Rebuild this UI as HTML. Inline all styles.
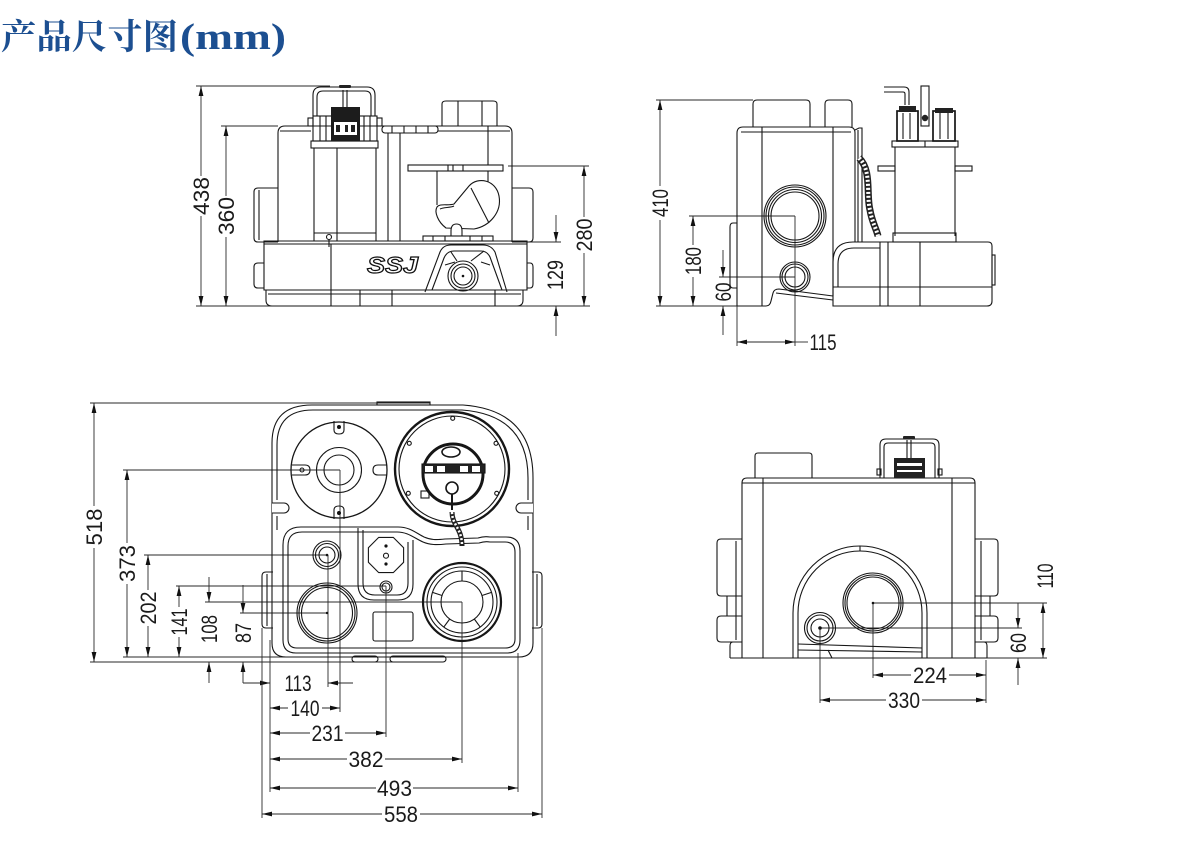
<!DOCTYPE html>
<html><head><meta charset="utf-8"><style>
html,body{margin:0;padding:0;background:#fff;}
svg{display:block;}
.d{stroke:#2a2a2a;stroke-width:0.9;fill:none;}
.k{stroke:#161616;stroke-width:1.1;fill:none;}
.t{font-family:"Liberation Sans Narrow","Liberation Sans",sans-serif;font-size:22px;fill:#1a1a1a;}
</style></head><body>
<svg width="1184" height="846" viewBox="0 0 1184 846" xmlns="http://www.w3.org/2000/svg">
<defs>
<marker id="a" markerWidth="10" markerHeight="6" refX="10" refY="3" orient="auto-start-reverse" markerUnits="userSpaceOnUse"><path d="M0,0.6 L10,3 L0,5.4 Z" fill="#111"/></marker>
</defs>
<rect width="1184" height="846" fill="#fff"/>

<!-- Title -->
<text x="1" y="49" font-family="'Liberation Serif','Noto Serif CJK SC',serif" font-weight="bold" font-size="35" fill="#1c4f91" textLength="177" lengthAdjust="spacingAndGlyphs">产品尺寸图</text>
<text x="180" y="49" font-family="'Liberation Serif',serif" font-weight="bold" font-size="37" fill="#1c4f91" textLength="106" lengthAdjust="spacingAndGlyphs">(mm)</text>

<!-- ================= FRONT VIEW (top-left) ================= -->
<g class="d">
  <line x1="196" y1="86" x2="330" y2="86"/>
  <line x1="196" y1="306" x2="590" y2="306"/>
  <line x1="221" y1="126" x2="278" y2="126"/>
  <line x1="508" y1="166" x2="589" y2="166"/>
  <line x1="527" y1="242" x2="561" y2="242"/>
  <line x1="201" y1="86" x2="201" y2="176" marker-start="url(#a)"/>
  <line x1="201" y1="216" x2="201" y2="306" marker-end="url(#a)"/>
  <line x1="226" y1="126" x2="226" y2="196" marker-start="url(#a)"/>
  <line x1="226" y1="237" x2="226" y2="306" marker-end="url(#a)"/>
  <line x1="584" y1="166" x2="584" y2="217" marker-start="url(#a)"/>
  <line x1="584" y1="253" x2="584" y2="306" marker-end="url(#a)"/>
  <line x1="556" y1="215" x2="556" y2="242" marker-end="url(#a)"/>
  <line x1="556" y1="336" x2="556" y2="306" marker-end="url(#a)"/>
</g>
<text class="t" text-anchor="middle" transform="translate(201,196) rotate(-90)" dy="8" textLength="38" lengthAdjust="spacingAndGlyphs">438</text>
<text class="t" text-anchor="middle" transform="translate(226,216) rotate(-90)" dy="8" textLength="38" lengthAdjust="spacingAndGlyphs">360</text>
<text class="t" text-anchor="middle" transform="translate(584,235) rotate(-90)" dy="8" textLength="33" lengthAdjust="spacingAndGlyphs">280</text>
<text class="t" text-anchor="middle" transform="translate(555,275) rotate(-90)" dy="8" textLength="30" lengthAdjust="spacingAndGlyphs">129</text>

<g class="k">
  <!-- upper body -->
  <path d="M278,242 V133 Q278,126 285,126 H505 Q512,126 512,133 V242"/>
  <line x1="280" y1="131" x2="311" y2="131"/>
  <line x1="438" y1="131" x2="510" y2="131"/>
  <path d="M278,188 H258 Q254,188 254,192 V238 Q254,242 258,242 H278"/>
  <line x1="259" y1="190" x2="259" y2="240"/>
  <path d="M512,188 H529 Q533,188 533,192 V238 Q533,242 529,242 H512"/>
  <!-- base -->
  <path d="M264,290 V241 H527 V290 Z"/>
  <line x1="264" y1="244" x2="527" y2="244"/>
  <path d="M266,290 V300 Q266,306 272,306 H517 Q523,306 523,300 V290"/>
  <line x1="268" y1="294" x2="521" y2="294"/>
  <path d="M264,263 H258 Q254,263 254,267 V284 Q254,288 258,288 H264"/>
  <path d="M527,263 H530 Q533,263 533,267 V284 Q533,288 530,288 H527"/>
  <line x1="331" y1="244" x2="331" y2="306"/>
  <line x1="360" y1="290" x2="360" y2="306"/>
  <line x1="392" y1="290" x2="392" y2="306"/>
  <line x1="495" y1="290" x2="495" y2="306"/>
  <!-- pump head -->
  <rect x="311" y="141" width="67" height="7"/>
  <line x1="314" y1="148" x2="314" y2="241"/>
  <line x1="376" y1="148" x2="376" y2="241"/>
  <line x1="337" y1="148" x2="337" y2="241"/>
  <line x1="314" y1="233" x2="376" y2="233"/>
  <circle cx="329" cy="237" r="2.5"/>
  <line x1="329" y1="240" x2="329" y2="247"/>
  <rect x="313" y="116" width="64" height="25"/>
  <line x1="320" y1="116" x2="320" y2="141"/>
  <line x1="326" y1="116" x2="326" y2="141"/>
  <line x1="364" y1="116" x2="364" y2="141"/>
  <line x1="370" y1="116" x2="370" y2="141"/>
  <rect x="308" y="118" width="5" height="8"/>
  <rect x="377" y="118" width="5" height="8"/>
  <path d="M313,116 V95 Q313,87 321,87 H367 Q375,87 375,95 V116"/>
  <path d="M317,116 V97 Q317,91 323,91 H365 Q371,91 371,97 V116"/>
  <line x1="343" y1="90" x2="343" y2="107"/>
  <line x1="347" y1="90" x2="347" y2="107"/>
  <!-- vent piece -->
  <rect x="382" y="126" width="56" height="7" rx="3"/>
  <line x1="392" y1="126" x2="392" y2="133"/>
  <line x1="404" y1="126" x2="404" y2="133"/>
  <line x1="416" y1="126" x2="416" y2="133"/>
  <line x1="428" y1="126" x2="428" y2="133"/>
  <!-- outlet top -->
  <path d="M442,126 V104 Q442,101 446,101 H493 Q497,101 497,104 V126"/>
  <line x1="458" y1="101" x2="458" y2="126"/>
  <line x1="482" y1="101" x2="482" y2="126"/>
  <!-- inner verticals -->
  <line x1="388" y1="133" x2="388" y2="241"/>
  <line x1="400" y1="133" x2="400" y2="241"/>
  <line x1="437" y1="171" x2="437" y2="205"/>
  <line x1="488" y1="126" x2="488" y2="165"/>
  <line x1="488" y1="171" x2="488" y2="185"/>
  <!-- plate -->
  <rect x="408" y="165" width="95" height="6"/>
  <line x1="448" y1="165" x2="448" y2="171"/>
  <line x1="453" y1="165" x2="453" y2="171"/>
  <line x1="463" y1="165" x2="463" y2="171"/>
  <!-- float -->
  <path d="M469,186 L454,204 C448,206 440,203 437,207 C434,212 438,222 446,228 L474,229 C490,226 502,212 499,196 C496,180 478,176 469,186 Z" fill="#fff"/>
  <line x1="471" y1="188" x2="489" y2="223"/>
  <path d="M440,209 C444,207 450,208 454,206"/>
  <path d="M451,236 V231 Q451,224 456.5,224 Q462,224 462,231 V236" fill="#fff"/>
  <rect x="423" y="236" width="70" height="5"/>
  <line x1="433" y1="236" x2="433" y2="241"/>
  <line x1="445" y1="236" x2="445" y2="241"/>
  <line x1="470" y1="236" x2="470" y2="241"/>
  <line x1="482" y1="236" x2="482" y2="241"/>
  <!-- outlet fitting -->
  <path d="M425,292 L440,252 Q443,245 451,245 H483 Q491,245 495,252 L507,292"/>
  <path d="M432,290 L444,258 Q447,251 454,251 H481 Q487,251 490,257 L502,290"/>
  <path d="M451,252 L457,261 M484,251 L471,261"/>
  <path d="M445,265 L455,262 M481,262 L490,265"/>
  <circle cx="463" cy="276" r="15"/>
  <circle cx="463" cy="276" r="12"/>
  <circle cx="463" cy="276" r="9"/>
</g>
<rect x="331" y="107" width="29" height="34" fill="#1c1c1c"/>
<rect x="334" y="122" width="23" height="13" fill="#fff"/>
<rect x="336" y="125" width="4" height="7" fill="#222"/>
<rect x="345" y="125" width="3" height="7" fill="#222"/>
<rect x="351" y="125" width="4" height="7" fill="#222"/>
<rect x="339" y="85" width="12" height="3" rx="1" fill="#222"/>
<circle cx="463" cy="276" r="1.3" fill="#111"/>
<text x="367" y="273" font-family="'Liberation Sans',sans-serif" font-weight="bold" font-style="italic" font-size="23" fill="#fff" stroke="#111" stroke-width="1.2" textLength="51" lengthAdjust="spacingAndGlyphs">SSJ</text>

<!-- ================= SIDE VIEW (top-right) ================= -->
<g class="d">
  <line x1="656" y1="100" x2="753" y2="100"/>
  <line x1="656" y1="306" x2="737" y2="306"/>
  <line x1="689" y1="216" x2="795" y2="216"/>
  <line x1="719" y1="277" x2="795" y2="277"/>
  <line x1="737" y1="306" x2="737" y2="346"/>
  <line x1="795" y1="216" x2="795" y2="346"/>
  <line x1="660" y1="100" x2="660" y2="186" marker-start="url(#a)"/>
  <line x1="660" y1="220" x2="660" y2="306" marker-end="url(#a)"/>
  <line x1="693" y1="216" x2="693" y2="245" marker-start="url(#a)"/>
  <line x1="693" y1="277" x2="693" y2="306" marker-end="url(#a)"/>
  <line x1="723" y1="250" x2="723" y2="277" marker-end="url(#a)"/>
  <line x1="723" y1="335" x2="723" y2="306" marker-end="url(#a)"/>
  <line x1="737" y1="342" x2="795" y2="342" marker-start="url(#a)" marker-end="url(#a)"/>
  <line x1="795" y1="342" x2="808" y2="342"/>
</g>
<text class="t" text-anchor="middle" transform="translate(660,203) rotate(-90)" dy="8" textLength="28" lengthAdjust="spacingAndGlyphs">410</text>
<text class="t" text-anchor="middle" transform="translate(693,261) rotate(-90)" dy="8" textLength="28" lengthAdjust="spacingAndGlyphs">180</text>
<text class="t" text-anchor="middle" transform="translate(723,292) rotate(-90)" dy="8" textLength="19" lengthAdjust="spacingAndGlyphs">60</text>
<text class="t" x="823" y="350" text-anchor="middle" textLength="27" lengthAdjust="spacingAndGlyphs">115</text>

<g class="k">
  <path d="M737,306 V133 Q737,127 743,127 H849 Q855,127 855,133 V242"/>
  <line x1="741" y1="132" x2="851" y2="132"/>
  <line x1="762" y1="127" x2="762" y2="306"/>
  <line x1="833" y1="127" x2="833" y2="296"/>
  <path d="M737,306 H766 Q770,306 771,301 L773,293 Q774,289 779,289 L833,296"/>
  <path d="M776,293 L833,300"/>
  <path d="M737,223 H733 Q730,223 730,227 V284 Q730,288 733,288 H737"/>
  <path d="M753,127 V104 Q753,100 757,100 H806 Q810,100 810,104 V127"/>
  <path d="M825,127 V104 Q825,100 829,100 H848 Q852,100 852,104 V127"/>
  <circle cx="795" cy="216" r="31"/>
  <circle cx="795" cy="216" r="29"/>
  <circle cx="795" cy="216" r="26.5"/>
  <circle cx="795" cy="216" r="24"/>
  <circle cx="795" cy="277" r="15"/>
  <circle cx="795" cy="277" r="13"/>
  <circle cx="795" cy="277" r="10"/>
  <path d="M855,130 L859,128 H862 V242"/>
  <line x1="858" y1="130" x2="858" y2="242"/>
  <!-- base tank -->
  <path d="M833,306 V262 Q833,242 853,242 H988 Q992,242 992,246 V301 Q992,306 987,306 Z"/>
  <path d="M838,287 V264 Q838,248 854,248 H880"/>
  <line x1="833" y1="287" x2="992" y2="287"/>
  <line x1="880" y1="242" x2="880" y2="306"/>
  <line x1="888" y1="242" x2="888" y2="306"/>
  <line x1="920" y1="242" x2="920" y2="306"/>
  <rect x="992" y="255" width="3" height="30"/>
  <!-- pump -->
  <rect x="892" y="141" width="66" height="6"/>
  <line x1="925" y1="141" x2="925" y2="147"/>
  <line x1="895" y1="147" x2="895" y2="236"/>
  <line x1="955" y1="147" x2="955" y2="236"/>
  <rect x="893" y="233" width="63" height="9"/>
  <rect x="878" y="166" width="17" height="5"/>
  <rect x="955" y="166" width="17" height="5"/>
  <rect x="897" y="111" width="21" height="30" stroke-width="1.7"/>
  <rect x="933" y="111" width="22" height="30" stroke-width="1.7"/>
  <line x1="903" y1="113" x2="903" y2="139"/>
  <line x1="910" y1="113" x2="910" y2="139"/>
  <line x1="940" y1="113" x2="940" y2="139"/>
  <line x1="948" y1="113" x2="948" y2="139"/>
  <rect x="921" y="86" width="8" height="40"/>
  <path d="M884,87 H904 Q909,87 909,92 V105 M884,92 H903 Q905,92 905,94 V105" />
</g>
<path d="M859,158 C872,170 866,195 870,210 C872,222 876,228 878,236" stroke="#222" stroke-width="7" fill="none"/>
<path d="M859,158 C872,170 866,195 870,210 C872,222 876,228 878,236" stroke="#fff" stroke-width="4" fill="none" stroke-dasharray="2 2"/>
<rect x="899" y="106" width="17" height="6" fill="#222"/>
<rect x="935" y="108" width="18" height="5" fill="#222"/>
<circle cx="925" cy="118" r="3.2" fill="#222"/>

<!-- ================= TOP VIEW (bottom-left) ================= -->
<g class="d">
  <line x1="90" y1="403" x2="430" y2="403"/>
  <line x1="123" y1="470" x2="340" y2="470"/>
  <line x1="144" y1="555" x2="327" y2="555"/>
  <line x1="176" y1="586" x2="386" y2="586"/>
  <line x1="205" y1="602" x2="462" y2="602"/>
  <line x1="240" y1="613" x2="327" y2="613"/>
  <line x1="123" y1="657" x2="300" y2="657"/>
  <line x1="90" y1="662" x2="430" y2="662"/>
  <line x1="94" y1="403" x2="94" y2="506" marker-start="url(#a)"/>
  <line x1="94" y1="548" x2="94" y2="662" marker-end="url(#a)"/>
  <line x1="127" y1="470" x2="127" y2="543" marker-start="url(#a)"/>
  <line x1="127" y1="584" x2="127" y2="657" marker-end="url(#a)"/>
  <line x1="148" y1="555" x2="148" y2="590" marker-start="url(#a)"/>
  <line x1="148" y1="626" x2="148" y2="657" marker-end="url(#a)"/>
  <line x1="179" y1="586" x2="179" y2="607" marker-start="url(#a)"/>
  <line x1="179" y1="637" x2="179" y2="657" marker-end="url(#a)"/>
  <line x1="209" y1="577" x2="209" y2="602" marker-end="url(#a)"/>
  <line x1="209" y1="683" x2="209" y2="662" marker-end="url(#a)"/>
  <line x1="243" y1="585" x2="243" y2="613" marker-end="url(#a)"/>
  <line x1="243" y1="683" x2="243" y2="662" marker-end="url(#a)"/>
  <line x1="243" y1="683" x2="270" y2="683" marker-end="url(#a)"/>
  <line x1="353" y1="683" x2="328" y2="683" marker-end="url(#a)"/>
  <line x1="270" y1="708" x2="288" y2="708" marker-start="url(#a)"/>
  <line x1="322" y1="708" x2="340" y2="708" marker-end="url(#a)"/>
  <line x1="270" y1="733" x2="310" y2="733" marker-start="url(#a)"/>
  <line x1="345" y1="733" x2="386" y2="733" marker-end="url(#a)"/>
  <line x1="270" y1="759" x2="347" y2="759" marker-start="url(#a)"/>
  <line x1="385" y1="759" x2="462" y2="759" marker-end="url(#a)"/>
  <line x1="270" y1="788" x2="376" y2="788" marker-start="url(#a)"/>
  <line x1="413" y1="788" x2="518" y2="788" marker-end="url(#a)"/>
  <line x1="262" y1="814" x2="382" y2="814" marker-start="url(#a)"/>
  <line x1="420" y1="814" x2="542" y2="814" marker-end="url(#a)"/>
  <line x1="262" y1="628" x2="262" y2="818"/>
  <line x1="270" y1="640" x2="270" y2="792"/>
  <line x1="328" y1="555" x2="328" y2="687"/>
  <line x1="340" y1="470" x2="340" y2="712"/>
  <line x1="386" y1="586" x2="386" y2="737"/>
  <line x1="462" y1="602" x2="462" y2="763"/>
  <line x1="518" y1="653" x2="518" y2="792"/>
  <line x1="542" y1="628" x2="542" y2="818"/>
</g>
<text class="t" text-anchor="middle" transform="translate(94,527) rotate(-90)" dy="8" textLength="37" lengthAdjust="spacingAndGlyphs">518</text>
<text class="t" text-anchor="middle" transform="translate(127,563.5) rotate(-90)" dy="8" textLength="37" lengthAdjust="spacingAndGlyphs">373</text>
<text class="t" text-anchor="middle" transform="translate(148,608) rotate(-90)" dy="8" textLength="33" lengthAdjust="spacingAndGlyphs">202</text>
<text class="t" text-anchor="middle" transform="translate(179,622) rotate(-90)" dy="8" textLength="27" lengthAdjust="spacingAndGlyphs">141</text>
<text class="t" text-anchor="middle" transform="translate(209,629) rotate(-90)" dy="8" textLength="28" lengthAdjust="spacingAndGlyphs">108</text>
<text class="t" text-anchor="middle" transform="translate(243,633) rotate(-90)" dy="8" textLength="20" lengthAdjust="spacingAndGlyphs">87</text>
<text class="t" x="298" y="691" text-anchor="middle" textLength="27" lengthAdjust="spacingAndGlyphs">113</text>
<text class="t" x="305" y="716" text-anchor="middle" textLength="29" lengthAdjust="spacingAndGlyphs">140</text>
<text class="t" x="327.5" y="741" text-anchor="middle" textLength="32" lengthAdjust="spacingAndGlyphs">231</text>
<text class="t" x="366" y="767" text-anchor="middle" textLength="35" lengthAdjust="spacingAndGlyphs">382</text>
<text class="t" x="394.5" y="796" text-anchor="middle" textLength="35" lengthAdjust="spacingAndGlyphs">493</text>
<text class="t" x="401" y="822" text-anchor="middle" textLength="34" lengthAdjust="spacingAndGlyphs">558</text>

<g class="k">
  <path d="M272,443 Q272,405 312,405 H463 Q533,410 533,478 V643 Q533,657 519,657 H286 Q272,657 272,643 Z"/>
  <path d="M277,500 V445 Q277,410 313,410 H462 Q528,415 528,478 V500"/>
  <rect x="377" y="402" width="53" height="3"/>
  <path d="M272,503 H284 A5,5 0 0 1 284,513 H272" fill="#fff"/>
  <path d="M533,503 H521 A5,5 0 0 0 521,513 H533" fill="#fff"/>
  <line x1="277" y1="516" x2="277" y2="530"/>
  <line x1="528" y1="516" x2="528" y2="530"/>
  <!-- tray -->
  <path d="M283,545 Q283,527 301,527 H398 C410,527 416,533 424,537 C431,540 436,540 445,539 L478,538 Q484,536 490,537 H506 Q520,537 520,551 V640 Q520,653 507,653 H296 Q283,653 283,640 Z"/>
  <path d="M288,546 Q288,532 302,532 H397 C408,532 414,538 423,542 C430,545 437,545 446,544 L479,543 Q485,541 490,542 H505 Q515,542 515,552 V639 Q515,648 505,648 H297 Q288,648 288,639 Z"/>
  <!-- left cover -->
  <circle cx="339" cy="470" r="48" stroke-width="1.3"/>
  <circle cx="339" cy="470" r="22.5"/>
  <circle cx="339" cy="470" r="15"/>
  <path d="M334,421 V430 Q334,434 339,434 Q344,434 344,430 V421"/>
  <path d="M334,519 V510 Q334,506 339,506 Q344,506 344,510 V519"/>
  <path d="M292,465 H305 Q310,465 310,470 Q310,475 305,475 H292"/>
  <circle cx="302" cy="470" r="2"/>
  <path d="M387,465 H378 Q373,465 373,470 Q373,475 378,475 H387"/>
  <!-- right circle -->
  <circle cx="452" cy="469" r="57" stroke-width="2.4"/>
  <circle cx="452" cy="469" r="53"/>
  <circle cx="452.7" cy="418.3" r="2"/>
  <circle cx="409.3" cy="443.3" r="2"/>
  <circle cx="496" cy="443.3" r="2"/>
  <circle cx="408.3" cy="493.3" r="2"/>
  <circle cx="496.7" cy="493.3" r="2"/>
  <circle cx="453" cy="474" r="30" stroke-width="3"/>
  <ellipse cx="451" cy="452" rx="9" ry="5" stroke-width="1.6"/>
  <rect x="422" y="464" width="63" height="9" fill="#222"/>
  <rect x="425" y="466" width="8" height="6" fill="#fff" stroke="none"/>
  <rect x="437" y="466" width="8" height="6" fill="#fff" stroke="none"/>
  <rect x="460" y="466" width="8" height="6" fill="#fff" stroke="none"/>
  <rect x="472" y="466" width="8" height="6" fill="#fff" stroke="none"/>
  <circle cx="452" cy="488" r="6" stroke-width="1.6"/>
  <line x1="452" y1="494" x2="452" y2="510" stroke-width="2"/>
  <rect x="421" y="491" width="8" height="7"/>
  <!-- vent -->
  <circle cx="327" cy="555" r="14"/>
  <circle cx="327" cy="555" r="11.5"/>
  <circle cx="327" cy="555" r="8"/>
  <!-- octagon + housing -->
  <polygon points="403.6,562.3 393.3,572.6 378.7,572.6 368.4,562.3 368.4,547.7 378.7,537.4 393.3,537.4 403.6,547.7"/>
  <circle cx="386" cy="555.7" r="2.5"/>
  <path d="M358,528 V584 Q358,600 374,600 H398 Q413,600 413,584 V540"/>
  <path d="M363,530 V583 Q363,595 375,595 H397 Q408,595 408,583 V542"/>
  <circle cx="386" cy="587" r="6"/>
  <circle cx="386" cy="587" r="4"/>
  <!-- big left circle -->
  <circle cx="327" cy="613" r="30"/>
  <circle cx="327" cy="613" r="28"/>
  <circle cx="327" cy="613" r="25.5"/>
  <rect x="373" y="612" width="40" height="29" rx="2"/>
  <!-- right big circle -->
  <circle cx="462" cy="602" r="39" stroke-width="2.2"/>
  <circle cx="462" cy="602" r="35"/>
  <circle cx="462" cy="602" r="31"/>
  <circle cx="462" cy="602" r="21"/>
  <path d="M462,581 V571 M482,595.5 L491.5,592.4 M474.3,619 L480.2,627.1 M449.7,619 L443.8,627.1 M442,595.5 L432.5,592.4"/>
  <!-- side bumps + feet -->
  <path d="M273,572 H266 Q262,572 262,576 V624 Q262,628 266,628 H273"/>
  <line x1="267" y1="574" x2="267" y2="626"/>
  <path d="M532,572 H538 Q542,572 542,576 V624 Q542,628 538,628 H532"/>
  <line x1="537" y1="574" x2="537" y2="626"/>
  <rect x="352" y="656" width="26" height="6" rx="3"/>
  <rect x="390" y="656" width="56" height="6" rx="3"/>
</g>
<circle cx="339" cy="427" r="2" fill="#111"/>
<circle cx="339" cy="513" r="2" fill="#111"/>
<circle cx="327" cy="555" r="1.3" fill="#111"/>
<circle cx="386" cy="546" r="1.6" fill="#111"/>
<circle cx="386" cy="564" r="1.6" fill="#111"/>
<circle cx="327" cy="613" r="1.2" fill="#111"/>
<path d="M452,512 C452,525 462,528 462,546" stroke="#222" stroke-width="5" fill="none"/>
<path d="M452,512 C452,525 462,528 462,546" stroke="#fff" stroke-width="2.5" fill="none" stroke-dasharray="2 2"/>

<!-- ================= REAR VIEW (bottom-right) ================= -->
<g class="d">
  <line x1="873" y1="603" x2="1047" y2="603"/>
  <line x1="820" y1="628" x2="1022" y2="628"/>
  <line x1="987" y1="658" x2="1047" y2="658"/>
  <line x1="873" y1="603" x2="873" y2="678"/>
  <line x1="820" y1="628" x2="820" y2="703"/>
  <line x1="986" y1="660" x2="986" y2="703"/>
  <line x1="1043" y1="603" x2="1043" y2="658" marker-start="url(#a)" marker-end="url(#a)"/>
  <line x1="1018" y1="603" x2="1018" y2="628" marker-end="url(#a)"/>
  <line x1="1018" y1="685" x2="1018" y2="658" marker-end="url(#a)"/>
  <line x1="873" y1="675" x2="911" y2="675" marker-start="url(#a)"/>
  <line x1="949" y1="675" x2="986" y2="675" marker-end="url(#a)"/>
  <line x1="820" y1="700" x2="886" y2="700" marker-start="url(#a)"/>
  <line x1="922" y1="700" x2="986" y2="700" marker-end="url(#a)"/>
</g>
<text class="t" text-anchor="middle" transform="translate(1045,576) rotate(-90)" dy="8" textLength="25" lengthAdjust="spacingAndGlyphs">110</text>
<text class="t" text-anchor="middle" transform="translate(1018,643) rotate(-90)" dy="8" textLength="20" lengthAdjust="spacingAndGlyphs">60</text>
<text class="t" x="930" y="683" text-anchor="middle" textLength="34" lengthAdjust="spacingAndGlyphs">224</text>
<text class="t" x="904" y="708" text-anchor="middle" textLength="32" lengthAdjust="spacingAndGlyphs">330</text>

<g class="k">
  <path d="M742,658 V483 Q742,478 747,478 H970 Q975,478 975,483 V658"/>
  <line x1="742" y1="483" x2="975" y2="483"/>
  <line x1="730" y1="658" x2="987" y2="658"/>
  <line x1="763" y1="478" x2="763" y2="658"/>
  <line x1="952" y1="478" x2="952" y2="658"/>
  <path d="M742,642 H733 Q730,642 730,646 V658"/>
  <path d="M975,642 H984 Q987,642 987,646 V658"/>
  <path d="M755,478 V456 Q755,453 758,453 H809 Q812,453 812,456 V478"/>
  <path d="M880,478 V445 Q880,439 886,439 H933 Q939,439 939,445 V478"/>
  <path d="M884,478 V447 Q884,443 888,443 H931 Q935,443 935,447 V478"/>
  <line x1="907" y1="440" x2="907" y2="458"/>
  <line x1="911" y1="440" x2="911" y2="458"/>
  <rect x="877" y="469" width="4" height="6"/>
  <rect x="938" y="469" width="4" height="6"/>
  <path d="M742,539 H721 Q717,539 717,543 V592 Q717,596 721,596 H742"/>
  <path d="M742,596 H727 V616 H742"/>
  <path d="M742,616 H721 Q717,616 717,620 V638 Q717,642 721,642 H742"/>
  <line x1="736" y1="541" x2="736" y2="640"/>
  <path d="M975,539 H994 Q998,539 998,543 V592 Q998,596 994,596 H975"/>
  <path d="M975,596 H990 V616 H975"/>
  <path d="M975,616 H994 Q998,616 998,620 V638 Q998,642 994,642 H975"/>
  <line x1="981" y1="541" x2="981" y2="640"/>
  <path d="M793,658 V613 A67,67 0 0 1 927,613 V658"/>
  <path d="M798,658 V613 A62,62 0 0 1 922,613 V658"/>
  <line x1="860" y1="546" x2="860" y2="551"/>
  <path d="M798,644 L922,648 M798,650 L922,652"/>
  <line x1="828" y1="650" x2="832" y2="658"/>
  <circle cx="873" cy="603" r="30"/>
  <circle cx="873" cy="603" r="28"/>
  <circle cx="873" cy="603" r="26"/>
  <circle cx="820" cy="628" r="15.5"/>
  <circle cx="820" cy="628" r="13"/>
  <circle cx="820" cy="628" r="9"/>
</g>
<rect x="894" y="458" width="31" height="20" fill="#222"/>
<rect x="897" y="463" width="25" height="3" fill="#fff"/>
<rect x="897" y="470" width="25" height="2" fill="#fff"/>
<rect x="903" y="436" width="12" height="3" rx="1" fill="#222"/>
<circle cx="873" cy="603" r="1.3" fill="#111"/>
<circle cx="820" cy="628" r="1.8" fill="#111"/>
</svg>
</body></html>
